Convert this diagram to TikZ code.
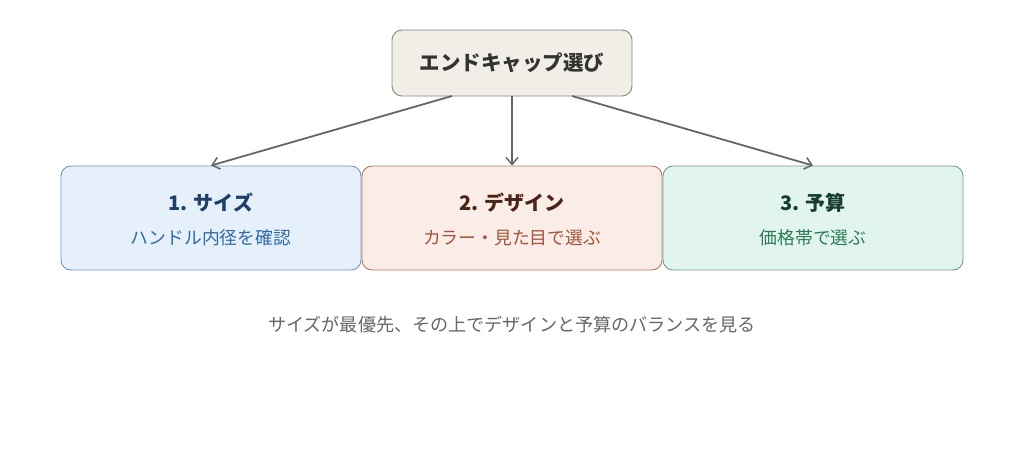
\documentclass[tikz,border=0pt]{standalone}
\usepackage{fontspec}
\setmainfont{Noto Sans CJK JP}
\usetikzlibrary{arrows.meta}
\definecolor{topfill}{HTML}{F1EEE7}
\definecolor{topdraw}{HTML}{8A877F}
\definecolor{toptext}{HTML}{333333}
\definecolor{afill}{HTML}{E6F0FB}
\definecolor{adraw}{HTML}{6E96C2}
\definecolor{atitle}{HTML}{1E3F66}
\definecolor{asub}{HTML}{2F6AA6}
\definecolor{bfill}{HTML}{FAECE6}
\definecolor{bdraw}{HTML}{B27767}
\definecolor{btitle}{HTML}{4A2418}
\definecolor{bsub}{HTML}{A2543A}
\definecolor{cfill}{HTML}{E2F4EE}
\definecolor{cdraw}{HTML}{6E9C8A}
\definecolor{ctitle}{HTML}{163D2F}
\definecolor{csub}{HTML}{2C7A58}
\definecolor{arrowc}{HTML}{666666}
\definecolor{capc}{HTML}{666666}
\tikzset{
  box/.style={rounded corners=10pt, line width=0.9pt, minimum width=300pt, minimum height=104pt, inner sep=0pt},
  topbox/.style={rounded corners=10pt, line width=0.9pt, fill=topfill, draw=topdraw, minimum width=240pt, minimum height=66pt, inner sep=0pt},
  conn/.style={draw=arrowc, line width=1.8pt, -{Straight Barb[length=7pt,width=12pt,line width=1.5pt]}},
  ttl/.style={font=\bfseries\fontsize{20}{22}\selectfont, anchor=center, inner sep=0pt},
  sub/.style={font=\fontsize{17.8}{20}\selectfont, anchor=center, inner sep=0pt}
}
\begin{document}
\begin{tikzpicture}[x=1pt,y=-1pt]
\useasboundingbox (0,0) rectangle (1024,452);
\fill[white] (0,0) rectangle (1024,452);
\node[topbox] (top) at (512,63) {};
\node[font=\bfseries\fontsize{20.5}{22}\selectfont, text=toptext, inner sep=0pt] (toptxt) at (512,63) {エンドキャップ選び};
\node[box, fill=afill, draw=adraw] (a) at (211,218) {};
\node[box, fill=bfill, draw=bdraw] (b) at (512,218) {};
\node[box, fill=cfill, draw=cdraw] (c) at (813,218) {};
\node[ttl, text=atitle] (at) at (211,203) {1. サイズ};
\node[sub, text=asub] (as) at (211,238) {ハンドル内径を確認};
\node[ttl, text=btitle] (bt) at (512,203) {2. デザイン};
\node[sub, text=bsub] (bs) at (512,238) {カラー・見た目で選ぶ};
\node[ttl, text=ctitle] (ct) at (813,203) {3. 予算};
\node[sub, text=csub] (cs) at (813,238) {価格帯で選ぶ};
\coordinate (s1) at (452,96);
\coordinate (s3) at (572,96);
\draw[conn] (s1) -- (a.north);
\draw[conn] (top.south) -- (b.north);
\draw[conn] (s3) -- (c.north);
\node[font=\fontsize{18.1}{20}\selectfont, text=capc, inner sep=0pt] (cap) at (512,325) {サイズが最優先、その上でデザインと予算のバランスを見る};
\end{tikzpicture}
\end{document}
